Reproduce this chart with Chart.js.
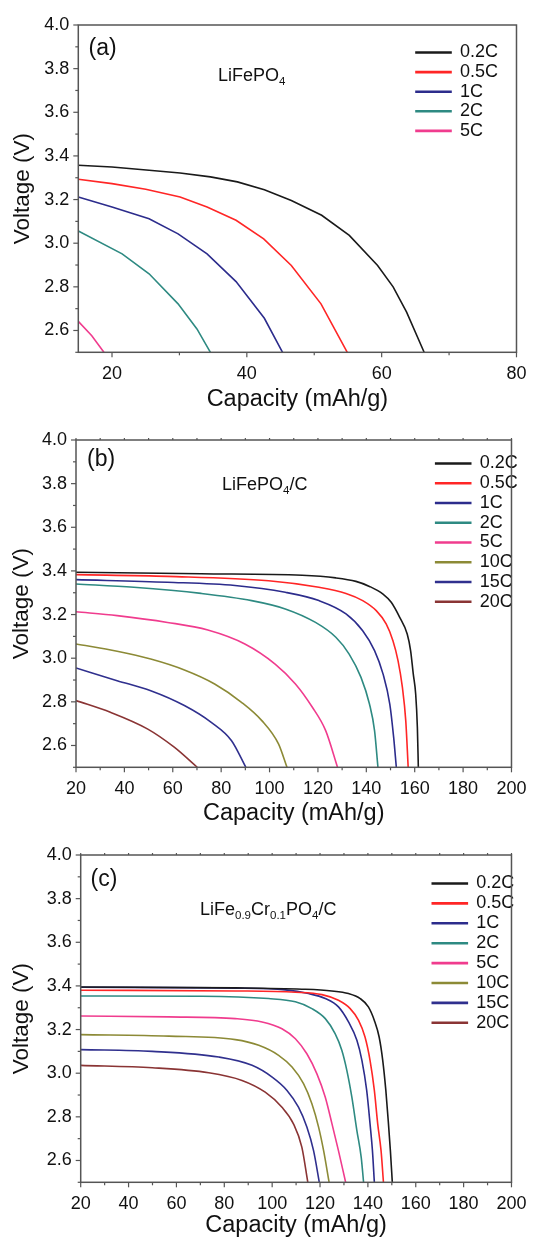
<!DOCTYPE html>
<html><head><meta charset="utf-8">
<script src="https://cdn.jsdelivr.net/npm/chart.js@4.4.1/dist/chart.umd.min.js"></script>
<style>
html,body{margin:0;padding:0;background:#fff;}
#wrap{position:relative;width:537px;height:1243px;overflow:hidden;}
canvas{position:absolute;left:0;}
</style></head><body>
<div id="wrap">
<canvas id="cA" width="537" height="415" style="top:0px"></canvas>
<canvas id="cB" width="537" height="415" style="top:415px"></canvas>
<canvas id="cC" width="537" height="413" style="top:830px"></canvas>
</div>
<script>
// ---------- DATA ----------
const ratesA = ['0.2C','0.5C','1C','2C','5C'];
const ratesBC = ['0.2C','0.5C','1C','2C','5C','10C','15C','20C'];
const seriesColors = ['#1a1a1a','#ff2626','#2c2c8c','#2e8a82','#f03c8e','#8c8a36','#30308e','#8a3434'];

const xTicksA = [20,30,40,50,60,70,80];
const xMajorA = [20,40,60,80];
const xTicksBC = [20,30,40,50,60,70,80,90,100,110,120,130,140,150,160,170,180,190,200];
const xMajorBC = [20,40,60,80,100,120,140,160,180,200];
const yTicks = [2.5,2.6,2.7,2.8,2.9,3.0,3.1,3.2,3.3,3.4,3.5,3.6,3.7,3.8,3.9,4.0];
const yMajor = [2.6,2.8,3.0,3.2,3.4,3.6,3.8,4.0];

const panelLabels = ['(a)','(b)','(c)'];
const xTitle = 'Capacity (mAh/g)';
const yTitle = 'Voltage (V)';

// Panel (a) LiFePO4 : [capacity, voltage]
const a_02C = [[15,3.357],[20,3.349],[25.5,3.334],[30.1,3.322],[34.6,3.304],[38.6,3.281],[42.6,3.245],[46.6,3.196],[51.1,3.128],[55.2,3.036],[59.4,2.898],[61.7,2.80],[63.7,2.684],[66.3,2.5]];
const a_05C = [[15,3.293],[20,3.273],[25,3.247],[30.1,3.212],[34.1,3.166],[38.4,3.105],[42.5,3.020],[46.6,2.898],[51,2.722],[54.9,2.5]];
const a_1C  = [[15,3.212],[20,3.166],[25.5,3.112],[29.8,3.043],[34.1,2.951],[38.4,2.824],[42.6,2.656],[45.3,2.5]];
const a_2C  = [[15,3.056],[21.5,2.951],[25.5,2.860],[29.8,2.722],[32.6,2.607],[34.6,2.5]];
const a_5C  = [[15,2.642],[17,2.576],[18.8,2.5]];

// Panel (b) LiFePO4/C
const b_02C = [[20,3.394],[71.7,3.387],[113.5,3.380],[127.4,3.368],[135.7,3.352],[141.3,3.329],[146.9,3.294],[150.3,3.256],[153.8,3.187],[156.9,3.111],[158.3,3.035],[159.4,2.928],[160.4,2.836],[161.1,2.683],[161.5,2.5]];
const b_05C = [[20,3.383],[57.8,3.375],[99.6,3.355],[120.4,3.325],[131.6,3.297],[138.5,3.264],[144.1,3.218],[148.2,3.157],[151,3.080],[153.1,2.989],[154.9,2.867],[156.3,2.714],[157.3,2.5]];
const b_1C  = [[20,3.360],[57.8,3.348],[85.7,3.333],[106.5,3.302],[120.4,3.264],[131.6,3.203],[138.5,3.126],[143.4,3.035],[146.9,2.928],[149.7,2.790],[151.3,2.637],[152.4,2.5]];
const b_2C  = [[20,3.340],[43.9,3.325],[71.7,3.297],[92.6,3.264],[106.5,3.226],[119,3.164],[127.4,3.096],[132.9,3.019],[137.8,2.912],[141.3,2.790],[143.4,2.668],[144.8,2.5]];
const b_5C  = [[20,3.213],[37,3.195],[57.8,3.164],[74.5,3.129],[89.8,3.065],[102.3,2.973],[110.7,2.882],[117.7,2.775],[123.2,2.668],[128.1,2.5]];
const b_10C = [[20,3.065],[37,3.032],[50.9,2.996],[64.8,2.946],[77.3,2.882],[88.4,2.798],[96.8,2.714],[103.7,2.607],[107.2,2.5]];
const b_15C = [[20,2.955],[37,2.897],[50.9,2.851],[64.8,2.783],[75.9,2.706],[84.3,2.622],[90.2,2.5]];
const b_20C = [[20,2.806],[34.2,2.752],[49.5,2.676],[60.6,2.592],[70.1,2.5]];

// Panel (c) LiFe0.9Cr0.1PO4/C
const c_02C = [[20,3.395],[84.6,3.391],[112.4,3.385],[124.9,3.377],[131.9,3.365],[136.8,3.342],[140.2,3.304],[142.7,3.242],[144.7,3.166],[146.2,3.059],[147.5,2.921],[148.6,2.768],[149.4,2.645],[150.2,2.5]];
const c_05C = [[20,3.380],[84.6,3.377],[109.7,3.371],[120.8,3.360],[127.7,3.334],[132.6,3.296],[136.1,3.242],[138.8,3.166],[140.9,3.059],[142.7,2.921],[144.1,2.768],[145.5,2.645],[146.5,2.5]];
const c_1C  = [[20,3.394],[84.6,3.390],[105.5,3.382],[115.2,3.365],[122.2,3.342],[127.7,3.304],[131.9,3.235],[135.4,3.151],[137.5,3.059],[139.5,2.921],[140.9,2.768],[141.9,2.645],[142.7,2.5]];
const c_2C  = [[20,3.354],[70.7,3.353],[98.5,3.342],[109.7,3.327],[116.6,3.296],[122.2,3.250],[126.3,3.181],[129.1,3.105],[131.2,3.013],[133.3,2.890],[135.4,2.737],[137.2,2.615],[138.2,2.5]];
const c_5C  = [[20,3.262],[56.8,3.258],[84.6,3.250],[95.8,3.235],[104.1,3.204],[109.7,3.158],[114.5,3.089],[118.7,2.997],[122.2,2.890],[125,2.768],[127.7,2.645],[130.7,2.5]];
const c_10C = [[20,3.177],[56.8,3.170],[84.6,3.154],[94.4,3.128],[102.7,3.082],[108.3,3.028],[113.1,2.952],[116.6,2.860],[119.4,2.753],[121.5,2.645],[123.8,2.5]];
const c_15C = [[20,3.108],[49.9,3.100],[77.7,3.074],[91.6,3.036],[100,2.982],[106.2,2.921],[111,2.844],[114.5,2.753],[117.3,2.645],[119.7,2.5]];
const c_20C = [[20,3.036],[49.9,3.025],[73.5,3.002],[87.4,2.967],[97.1,2.913],[104.1,2.844],[108.9,2.768],[112.4,2.661],[114.9,2.5]];

// ---------- RENDERING ----------
const FONT = '"Liberation Sans", Arial, Helvetica, sans-serif';
const TXT = '#111';
const TICK_FS = 18, XT_FS = 23.5, YT_FS = 22.5;
Chart.defaults.font.family = FONT;

const framePlugin = {
  id: 'frame',
  afterLayout(chart, args, o) {
    const lg = chart.legend;
    if (lg) {
      lg.left = o.legendX - o.legendPad;
      lg.top = o.legendY - 9 - o.legendPad;
      lg.right = 537; lg.bottom = lg.top + 300;
      lg.width = lg.right - lg.left; lg.height = 300;
    }
  },
  afterDraw(chart, args, o) {
    const {ctx, chartArea: ca, scales: {x, y}} = chart;
    ctx.save();
    ctx.strokeStyle = '#555';
    ctx.lineWidth = 1.5;
    ctx.strokeRect(ca.left, ca.top, ca.right - ca.left, ca.bottom - ca.top);
    ctx.lineWidth = 1.2;
    const ln = (x1, y1, x2, y2) => { ctx.beginPath(); ctx.moveTo(x1, y1); ctx.lineTo(x2, y2); ctx.stroke(); };
    x.ticks.forEach(t => {
      const px = x.getPixelForValue(t.value);
      const major = o.xMajor.includes(t.value);
      ln(px, ca.bottom, px, ca.bottom + (major ? 5 : 3));
      if (o.topTicks) ln(px, ca.top, px, ca.top - 2);
    });
    y.ticks.forEach(t => {
      const py = y.getPixelForValue(t.value);
      const major = yMajor.some(m => Math.abs(m - t.value) < 1e-6);
      ln(ca.left, py, ca.left - (major ? 5 : 3), py);
    });
    // annotations
    ctx.fillStyle = TXT;
    ctx.textBaseline = 'middle';
    ctx.textAlign = 'left';
    ctx.font = '23px ' + FONT;
    ctx.fillText(o.panel, o.panelX, o.panelY);
    ctx.textBaseline = 'alphabetic';
    let cx = o.nameX;
    o.name.forEach(([s, sub]) => {
      ctx.font = (sub ? '11.5px ' : '18px ') + FONT;
      ctx.fillText(s, cx, o.nameY + (sub ? 4 : 0));
      cx += ctx.measureText(s).width;
    });
    ctx.restore();
  }
};

function makeChart(id, H, area, xMin, xMax, xTicks, xMajor, names, series, smooth, ann) {
  const padLeft = area.yTitleX - YT_FS * 1.2 / 2;
  const padBottom = H - (area.xTitleY + XT_FS * 1.2 / 2);
  const yW = area.L - padLeft;
  const xH = (H - padBottom) - area.B;
  const datasets = series.map((s, i) => ({
    label: names[i],
    data: s.map(p => ({x: p[0], y: p[1]})),
    borderColor: seriesColors[i],
    backgroundColor: seriesColors[i],
    borderWidth: 1.6,
    pointRadius: 0,
    tension: smooth ? 0.4 : 0,
    cubicInterpolationMode: smooth ? 'monotone' : 'default',
    fill: false
  }));
  return new Chart(document.getElementById(id), {
    type: 'line',
    data: {datasets},
    plugins: [framePlugin],
    options: {
      responsive: false, animation: false, devicePixelRatio: 1, events: [],
      layout: {padding: {left: padLeft, top: area.T, right: 537 - area.R, bottom: padBottom}},
      scales: {
        x: {
          type: 'linear', min: xMin, max: xMax,
          afterBuildTicks: s => { s.ticks = xTicks.map(v => ({value: v})); },
          afterFit: s => { s.height = xH; },
          grid: {display: false, drawTicks: false},
          border: {display: false},
          ticks: {autoSkip: false, maxRotation: 0, padding: 10.5, color: TXT, font: {size: TICK_FS}},
          title: {display: true, text: xTitle, color: TXT, font: {size: XT_FS}, padding: 0}
        },
        y: {
          type: 'linear', min: 2.5, max: 4.0,
          afterBuildTicks: s => { s.ticks = yTicks.map(v => ({value: v})); },
          afterFit: s => { s.width = yW; },
          grid: {display: false, drawTicks: false},
          border: {display: false},
          ticks: {autoSkip: false, padding: 9, color: TXT, font: {size: TICK_FS},
            callback: v => yMajor.some(m => Math.abs(m - v) < 1e-6) ? v.toFixed(1) : ''},
          title: {display: true, text: yTitle, color: TXT, font: {size: YT_FS}, padding: 0}
        }
      },
      plugins: {
        tooltip: {enabled: false},
        legend: {
          display: true, position: 'chartArea', align: 'start',
          labels: {boxWidth: 35, boxHeight: 1, padding: ann.legendSpacing - 18, color: TXT, font: {size: 18}}
        },
        frame: {
          xMajor, topTicks: ann.topTicks,
          legendX: ann.legendX, legendY: ann.legendY, legendPad: ann.legendSpacing - 18,
          panel: ann.panel, panelX: ann.panelX, panelY: ann.panelY,
          name: ann.name, nameX: ann.nameX, nameY: ann.nameY
        }
      }
    }
  });
}

function setXLabels(chart, major) {
  chart.options.scales.x.ticks.callback = v => major.includes(v) ? String(v) : '';
  chart.update();
}

const chA = makeChart('cA', 415, {L: 78.3, T: 25, R: 522.3, B: 352.3, yTitleX: 22.5, xTitleY: 400},
  15, 80, xTicksA, xMajorA, ratesA, [a_02C, a_05C, a_1C, a_2C, a_5C], false,
  {topTicks: false, legendX: 416, legendY: 52.5, legendSpacing: 19.6,
   panel: panelLabels[0], panelX: 88.5, panelY: 49,
   name: [['LiFePO',0],['4',1]], nameX: 218, nameY: 81});
setXLabels(chA, xMajorA);

const chB = makeChart('cB', 415, {L: 76, T: 25, R: 520.7, B: 352.3, yTitleX: 22, xTitleY: 399},
  20, 200, xTicksBC, xMajorBC, ratesBC, [b_02C, b_05C, b_1C, b_2C, b_5C, b_10C, b_15C, b_20C], true,
  {topTicks: true, legendX: 435.7, legendY: 48.5, legendSpacing: 19.75,
   panel: panelLabels[1], panelX: 87, panelY: 45,
   name: [['LiFePO',0],['4',1],['/C',0]], nameX: 222, nameY: 75});
setXLabels(chB, xMajorBC);

const chC = makeChart('cC', 413, {L: 80.7, T: 25, R: 523.3, B: 352.3, yTitleX: 22, xTitleY: 396},
  20, 200, xTicksBC, xMajorBC, ratesBC, [c_02C, c_05C, c_1C, c_2C, c_5C, c_10C, c_15C, c_20C], true,
  {topTicks: true, legendX: 432.3, legendY: 53.5, legendSpacing: 19.9,
   panel: panelLabels[2], panelX: 90.5, panelY: 50,
   name: [['LiFe',0],['0.9',1],['Cr',0],['0.1',1],['PO',0],['4',1],['/C',0]], nameX: 200, nameY: 85});
setXLabels(chC, xMajorBC);
</script>
</body></html>
